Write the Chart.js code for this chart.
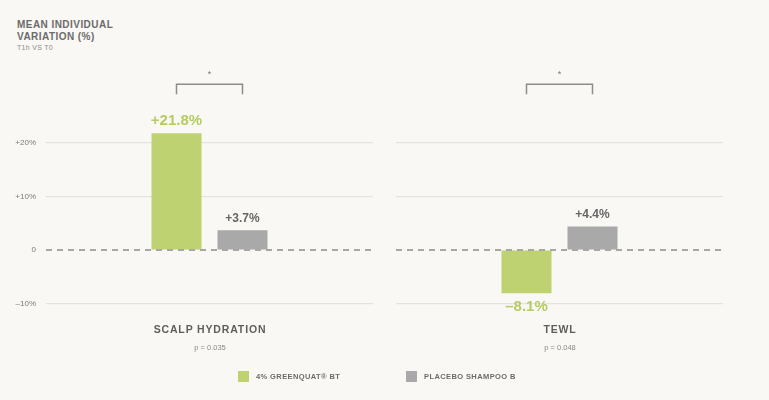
<!DOCTYPE html>
<html>
<head>
<meta charset="utf-8">
<script src="https://cdn.jsdelivr.net/npm/chart.js@4"></script>
<style>
  html, body { margin: 0; padding: 0; background: #f9f8f4; }
  body { width: 769px; height: 400px; position: relative; overflow: hidden;
         font-family: "Liberation Sans", Arial, sans-serif; }
  canvas { position: absolute; top: 0; }
  .txt { position: absolute; white-space: nowrap; color: #6b6b6b; }
  .title { left: 17px; top: 19px; font-size: 10px; font-weight: bold; letter-spacing: 0.45px; line-height: 12px; }
  .sub { left: 17px; top: 44px; font-size: 7px; letter-spacing: 0.3px; color: #8a8a8a; }
  .cat { font-size: 10.5px; font-weight: bold; letter-spacing: 0.85px; transform: translateX(-50%); color: #5e5e5e; top: 323px; }
  .pv { font-size: 7.5px; transform: translateX(-50%); color: #8a8a8a; top: 343px; }
  .leg { top: 371px; font-size: 7.5px; font-weight: bold; letter-spacing: 0.4px; line-height: 11px; color: #6b6b6b; }
  .leg i { display: inline-block; width: 11px; height: 11px; vertical-align: top; margin-right: 7px; }
</style>
</head>
<body>
<div class="txt title">MEAN INDIVIDUAL<br>VARIATION (%)</div>
<div class="txt sub">T1h VS T0</div>

<canvas id="left" width="380" height="400" style="left:0;width:380px;height:400px"></canvas>
<canvas id="right" width="389" height="400" style="left:380px;width:389px;height:400px"></canvas>

<div class="txt cat" style="left:210px">SCALP HYDRATION</div>
<div class="txt pv" style="left:210px">p = 0.035</div>
<div class="txt cat" style="left:560px">TEWL</div>
<div class="txt pv" style="left:560px">p = 0.048</div>

<div class="txt leg" style="left:238px"><i style="background:#bfd271"></i>4% GREENQUAT® BT</div>
<div class="txt leg" style="left:406px"><i style="background:#a9a9a9"></i>PLACEBO SHAMPOO B</div>

<script>
// données
const categories = ['SCALP HYDRATION', 'TEWL'];
const seriesNames = ['4% GREENQUAT® BT', 'PLACEBO SHAMPOO B'];
const greenquatValues = [21.8, -8.1];
const placeboValues = [3.7, 4.4];
const pValues = ['0.035', '0.048'];
const significance = ['*', '*'];
const yTicks = [-10, 0, 10, 20];

const GREEN = '#bfd271';
const GREY = '#a9a9a9';

function fmt(v) {
    if (v > 0) return '+' + v.toFixed(1) + '%';
    if (v < 0) return '\u2013' + Math.abs(v).toFixed(1) + '%';
    return '0';
}

// ligne zéro pointillée, étiquettes de valeurs, crochet de significativité
const annotations = {
    id: 'annotations',
    afterDraw(chart) {
        const ctx = chart.ctx;
        const y = chart.scales.y;
        const area = chart.chartArea;

        ctx.save();
        ctx.strokeStyle = '#a7a7a5';
        ctx.lineWidth = 2;
        ctx.setLineDash([6, 5]);
        ctx.beginPath();
        ctx.moveTo(area.left, y.getPixelForValue(0));
        ctx.lineTo(area.right, y.getPixelForValue(0));
        ctx.stroke();
        ctx.setLineDash([]);

        ctx.textAlign = 'center';
        ctx.textBaseline = 'middle';
        chart.data.datasets.forEach((ds, di) => {
            const bar = chart.getDatasetMeta(di).data[0];
            const v = ds.data[0];
            const big = di === 0;
            ctx.font = 'bold ' + (big ? 15 : 12) + 'px "Liberation Sans", Arial, sans-serif';
            ctx.fillStyle = big ? '#b5cc62' : '#666666';
            const off = big ? 13 : 12;
            const ty = v >= 0 ? bar.y - off : bar.y + off + 1;
            ctx.fillText(fmt(v), bar.x, ty);
        });

        const b0 = chart.getDatasetMeta(0).data[0];
        const b1 = chart.getDatasetMeta(1).data[0];
        const top = y.getPixelForValue(31);
        const foot = y.getPixelForValue(29.1);
        ctx.strokeStyle = '#8c8c8c';
        ctx.lineWidth = 1.5;
        ctx.beginPath();
        ctx.moveTo(b0.x, foot);
        ctx.lineTo(b0.x, top);
        ctx.lineTo(b1.x, top);
        ctx.lineTo(b1.x, foot);
        ctx.stroke();
        ctx.fillStyle = '#777';
        ctx.font = '9px "Liberation Sans", Arial, sans-serif';
        ctx.fillText(chart.options.plugins.annotations.star, (b0.x + b1.x) / 2, top - 10);
        ctx.restore();
    }
};

function makeChart(id, idx, showTicks, padding) {
    return new Chart(document.getElementById(id), {
        type: 'bar',
        data: {
            labels: [categories[idx]],
            datasets: [
                { label: seriesNames[0], data: [greenquatValues[idx]], backgroundColor: GREEN },
                { label: seriesNames[1], data: [placeboValues[idx]], backgroundColor: GREY }
            ]
        },
        options: {
            responsive: false,
            animation: false,
            devicePixelRatio: 1,
            layout: { padding: padding },
            datasets: { bar: { categoryPercentage: 0.4037, barPercentage: 0.758 } },
            plugins: {
                legend: { display: false },
                tooltip: { enabled: false },
                annotations: { star: significance[idx] }
            },
            scales: {
                x: { display: false },
                y: {
                    min: -12,
                    max: 30,
                    afterBuildTicks: scale => { scale.ticks = yTicks.map(v => ({ value: v })); },
                    afterFit: scale => { scale.width = showTicks ? 46 : 0; },
                    grid: {
                        drawTicks: false,
                        color: c => c.tick && c.tick.value === 0 ? 'transparent' : '#e4e3df',
                        lineWidth: 1.2
                    },
                    border: { display: false },
                    ticks: {
                        display: showTicks,
                        padding: 10,
                        color: '#7a7a7a',
                        font: { family: '"Liberation Sans", Arial, sans-serif', size: 8 },
                        callback: v => fmt(v).replace('.0', '')
                    }
                }
            }
        },
        plugins: [annotations]
    });
}

makeChart('left', 0, true, { top: 89.5, bottom: 85.8, left: 0, right: 7 });
makeChart('right', 1, false, { top: 89.5, bottom: 85.8, left: 16, right: 46 });
</script>
</body>
</html>
